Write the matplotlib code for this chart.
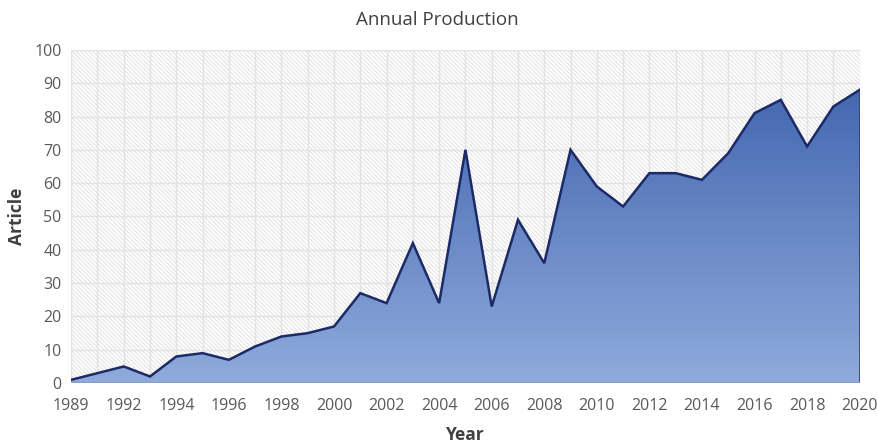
import numpy as np
import matplotlib
matplotlib.use("Agg")
import matplotlib.pyplot as plt
from matplotlib.colors import LinearSegmentedColormap
from matplotlib.patches import Rectangle

# yearly article counts (1990 has no entry)
years = [1989, 1991, 1992, 1993, 1994, 1995, 1996, 1997, 1998, 1999, 2000,
         2001, 2002, 2003, 2004, 2005, 2006, 2007, 2008, 2009, 2010,
         2011, 2012, 2013, 2014, 2015, 2016, 2017, 2018, 2019, 2020]
articles = [1, 3, 5, 2, 8, 9, 7, 11, 14, 15, 17,
            27, 24, 42, 24, 70, 23, 49, 36, 70, 59,
            53, 63, 63, 61, 69, 81, 85, 71, 83, 88]
yticks = list(range(0, 101, 10))

plt.rcParams['hatch.linewidth'] = 0.6
plt.rcParams['font.family'] = ['Open Sans', 'DejaVu Sans']

fig = plt.figure(figsize=(8.79, 4.45), dpi=100)
ax = fig.add_axes([0.081, 0.139, 0.897, 0.749])

x = np.arange(len(years))
ax.set_xlim(x[0], x[-1])
ax.set_ylim(0, 100)

# hatched plot background
bg = Rectangle((0, 0), 1, 1, transform=ax.transAxes, facecolor='white',
               edgecolor='#dcdcdc', hatch='\\' * 8, lw=0, zorder=0)
ax.add_patch(bg)

for t in yticks:
    ax.axhline(t, color='#e3e3e3', lw=1.0, zorder=1)
for xi in x:
    ax.axvline(xi, color='#e3e3e3', lw=1.0, zorder=1)

# gradient area under the line
poly = ax.fill_between(x, articles, 0, facecolor='none', edgecolor='none', zorder=2)
cmap = LinearSegmentedColormap.from_list('blues', ['#8fabdc', '#4467b0'])
grad = np.linspace(0, 1, 256).reshape(-1, 1)
img = ax.imshow(grad, cmap=cmap, origin='lower', aspect='auto',
                extent=[x[0], x[-1], 0, max(articles)], zorder=2)
img.set_clip_path(poly.get_paths()[0], transform=ax.transData)

ax.plot(x, articles, color='#1c2a66', lw=1.8, zorder=3, solid_joinstyle='miter')
ax.plot([x[-1], x[-1]], [0, articles[-1]], color='#1c2a66', lw=1.8, zorder=3)
ax.axhline(0, color='#8a9cc2', lw=1.5, zorder=3)

for s in ax.spines.values():
    s.set_visible(False)

ax.set_yticks(yticks)
ax.set_xticks(x[::2])
ax.set_xticklabels([str(years[i]) for i in range(0, len(years), 2)])
ax.tick_params(length=0, labelsize=11.5, colors='#595959', pad=7)
ax.tick_params(axis='x', pad=11)

# title sits centred on the whole figure
fig.text(0.497, 0.955, 'Annual Production', fontsize=13.5, color='#404040',
         ha='center', va='center')
ax.set_xlabel('Year', fontsize=12.5, fontweight='bold', color='#404040', labelpad=8)
ax.set_ylabel('Article', fontsize=12.5, fontweight='bold', color='#404040', labelpad=6)

fig.savefig('out.png', dpi=100)
